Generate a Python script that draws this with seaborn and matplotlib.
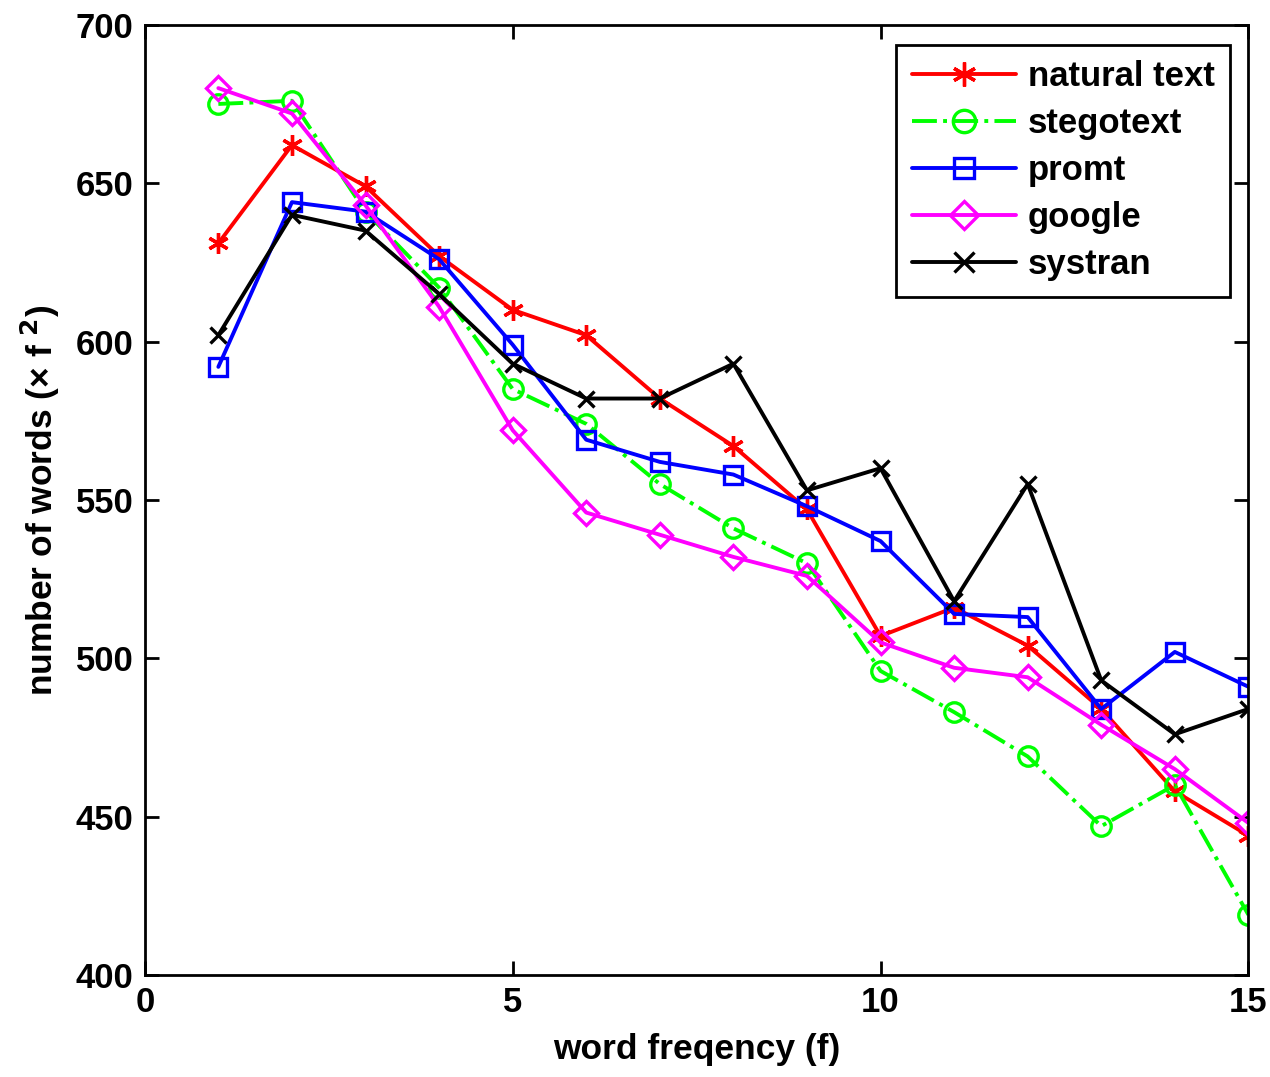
import matplotlib
matplotlib.use("Agg")
import matplotlib.pyplot as plt
import seaborn as sns
import pandas as pd

freq = list(range(1, 16))
natural_text = [631, 662, 649, 627, 610, 602, 582, 567, 547, 507, 516, 504, 484, 458, 444]
stegotext = [675, 676, 641, 617, 585, 574, 555, 541, 530, 496, 483, 469, 447, 460, 419]
promt = [592, 644, 641, 626, 599, 569, 562, 558, 548, 537, 514, 513, 484, 502, 491]
google = [680, 672, 643, 611, 572, 546, 539, 532, 526, 505, 497, 494, 479, 465, 448]
systran = [602, 640, 635, 615, 593, 582, 582, 593, 553, 560, 518, 555, 493, 476, 484]

series_names = ["natural text", "stegotext", "promt", "google", "systran"]
series_vals = [natural_text, stegotext, promt, google, systran]
colors = ["#ff0000", "#00ff00", "#0000ff", "#ff00ff", "#000000"]
markers = [(6, 2, 0), "o", "s", "D", "x"]
msizes = [15, 14, 13, 12.5, 12]
styles = ["-", "-.", "-", "-", "-"]

sns.set_style("ticks")
plt.rcParams["font.family"] = ["Liberation Sans", "DejaVu Sans"]
plt.rcParams["font.weight"] = "bold"
plt.rcParams["text.color"] = "black"
plt.rcParams["axes.labelcolor"] = "black"
plt.rcParams["xtick.color"] = "black"
plt.rcParams["ytick.color"] = "black"

fig = plt.figure(figsize=(12.7, 10.77), dpi=100)
ax = fig.add_axes([0.114, 0.0947, 0.869, 0.8823])

for name, vals, c, m, ms, ls in zip(series_names, series_vals, colors, markers, msizes, styles):
    df = pd.DataFrame({"f": freq, "v": vals})
    filled = m in ((6, 2, 0), "x")
    sns.lineplot(data=df, x="f", y="v", ax=ax, color=c, linestyle=ls, linewidth=2.8,
                 marker=m, markersize=ms, markerfacecolor=c if filled else "none",
                 markeredgecolor=c, markeredgewidth=2.4, label=name)

ax.set_xlim(0, 15)
ax.set_ylim(400, 700)
ax.set_xticks([0, 5, 10, 15])
ax.set_yticks([400, 450, 500, 550, 600, 650, 700])
ax.tick_params(direction="in", length=10, width=2, labelsize=25, top=True, right=True, pad=8,
               colors="black")
for lab in ax.get_xticklabels() + ax.get_yticklabels():
    lab.set_fontweight("bold")
for sp in ax.spines.values():
    sp.set_linewidth(2)
    sp.set_color("black")
ax.set_xlabel("word freqency (f)", fontsize=25.5, fontweight="bold", labelpad=10, color="black")
ax.set_ylabel("number of words (× f $^{2}$)", fontsize=25.5, fontweight="bold", labelpad=10,
              color="black")

leg = ax.legend(loc="upper right", bbox_to_anchor=(0.9837, 0.979), fontsize=25, frameon=True,
                fancybox=False, edgecolor="black", handlelength=3.0, borderpad=0.45,
                labelspacing=0.4, handletextpad=0.35, borderaxespad=0.0, markerscale=1.15)
leg.get_frame().set_linewidth(2)
leg.get_frame().set_alpha(1)
for t in leg.get_texts():
    t.set_fontweight("bold")
    t.set_color("black")

fig.savefig("out.png", dpi=100)
